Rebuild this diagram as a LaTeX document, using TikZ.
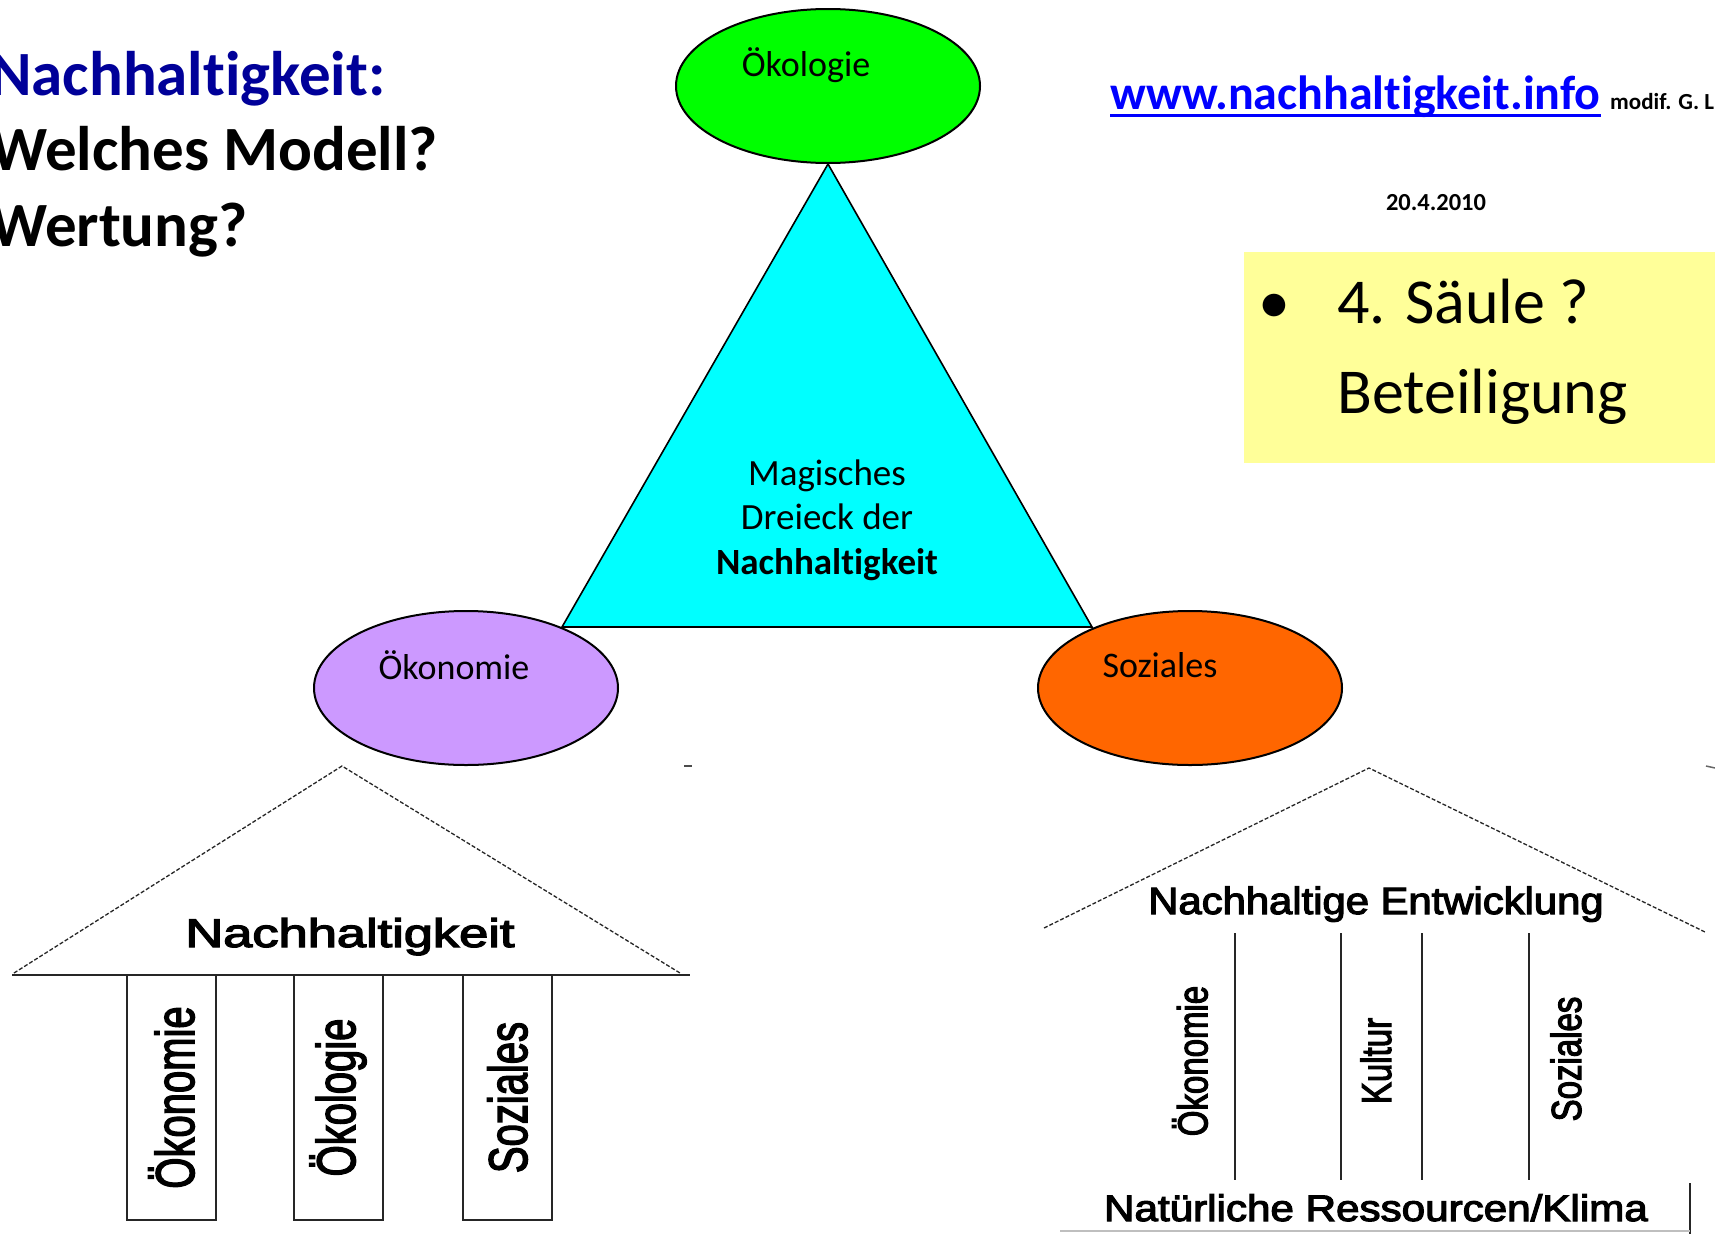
\documentclass[tikz,border=0pt]{standalone}
\usepackage{fontspec}
\setmainfont{Carlito}[Ligatures=NoCommon]
\newfontfamily\arialf{Liberation Sans}[FakeBold=3]
\usetikzlibrary{shapes.geometric}
\definecolor{titleblue}{RGB}{0,0,153}
\definecolor{urlblue}{RGB}{0,0,255}
\definecolor{oekogreen}{RGB}{0,255,0}
\definecolor{tricyan}{RGB}{0,255,255}
\definecolor{oekoviolet}{RGB}{204,153,255}
\definecolor{sozorange}{RGB}{255,102,0}
\definecolor{boxyellow}{RGB}{255,255,153}
\begin{document}
\begin{tikzpicture}[x=1pt,y=-1pt,
  ell/.style={ellipse, draw=black, line width=2pt, minimum width=304pt, minimum height=154pt, inner sep=0pt},
  elltext/.style={font=\fontsize{36}{40}\selectfont, inner sep=0pt},
  titletext/.style={anchor=base west, inner sep=0pt, font=\fontsize{63}{74}\selectfont\bfseries},
  rooflinestyle/.style={black!85, line width=1.3pt, dash pattern=on 4pt off 2pt},
  houseline/.style={black!85, line width=2pt},
  lcol/.style={draw=black!85, line width=2pt, rotate=90, minimum width=245pt, minimum height=89pt, inner sep=0pt, font=\arialf\fontsize{40}{44}\selectfont},
  rcoltext/.style={rotate=90, inner sep=0pt, font=\arialf\fontsize{33}{36}\selectfont},
  housetext/.style={inner sep=0pt, anchor=base, font=\arialf\fontsize{40}{44}\selectfont}
]
\useasboundingbox (0,0) rectangle (1715,1234);
\fill[white] (0,0) rectangle (1715,1234);

% title
\node[titletext, text=titleblue] (t1) at (-10,95) {Nachhaltigkeit:};
\node[titletext] (t2) at (-10,170) {Welches Modell?};
\node[titletext] (t3) at (-10,246) {Wertung?};

% url and notes
\node[anchor=base west, inner sep=0pt, text=urlblue, font=\fontsize{48}{52}\selectfont\bfseries] (url) at (1110,109) {www.nachhaltigkeit.info};
\draw[urlblue, line width=3pt] ([yshift=-6pt]url.base west) -- ([yshift=-6pt]url.base east);
\node[anchor=base west, inner sep=0pt, font=\fontsize{23}{26}\selectfont\bfseries] (modif) at (1610,109) {modif. G. L};
\node[anchor=base, inner sep=0pt, font=\fontsize{24.5}{26}\selectfont\bfseries] (date) at (1436,210) {20.4.2010};

% yellow box
\node[fill=boxyellow, anchor=north west, minimum width=480pt, minimum height=211pt, inner sep=0pt] (box) at (1244,252) {};
\node[anchor=base, inner sep=0pt, font=\fontsize{64}{70}\selectfont] (bul) at (1274,323) {•};
\node[anchor=base west, inner sep=0pt, font=\fontsize{64}{70}\selectfont] (s4) at (1337,323) {4. Säule ?};
\node[anchor=base west, inner sep=0pt, font=\fontsize{64}{70}\selectfont] (bet) at (1337,413) {Beteiligung};

% magic triangle
\coordinate (TA) at (828,164);
\coordinate (TL) at (562,627);
\coordinate (TR) at (1092,627);
\draw[fill=tricyan, line width=1.6pt] (TA) -- (TL) -- (TR) -- cycle;
\node[align=center, inner sep=0pt, font=\fontsize{37}{44.5}\selectfont] (tri) at (827,520) {Magisches\\Dreieck der\\\textbf{Nachhaltigkeit}};

% ellipses
\node[ell, fill=oekogreen] (oeko) at (828,86) {};
\node[elltext] (oekot) at (806,65) {Ökologie};
\node[ell, fill=oekoviolet] (oekon) at (466,688) {};
\node[elltext] (oekont) at (454,665) {Ökonomie};
\node[ell, fill=sozorange] (soz) at (1190,688) {};
\node[elltext] (sozt) at (1160,665) {Soziales};

% left house
\coordinate (LA) at (342,766);
\coordinate (LL) at (14,973);
\coordinate (LR) at (680,973);
\coordinate (LB1) at (12,975);
\coordinate (LB2) at (690,975);
\draw[rooflinestyle] (LL) -- (LA) -- (LR);
\draw[houseline] (LB1) -- (LB2);
\node[housetext] (lht) at (350,947) {\scalebox{1.31}[1]{Nachhaltigkeit}};
\node[lcol] (lc1) at (171.5,1097.5) {\scalebox{1}[1.36]{Ökonomie}};
\node[lcol] (lc2) at (338,1097.5) {\scalebox{1}[1.36]{Ökologie}};
\node[lcol] (lc3) at (507.5,1097.5) {\scalebox{1}[1.36]{Soziales}};
\coordinate (m1a) at (684,766); \coordinate (m1b) at (692,766);
\draw[black!70, line width=1.5pt] (m1a) -- (m1b);

% right house
\coordinate (RA) at (1369,768);
\coordinate (RL) at (1044,928);
\coordinate (RR) at (1705,932);
\draw[rooflinestyle] (RL) -- (RA) -- (RR);
\node[housetext, font=\arialf\fontsize{38}{42}\selectfont] (rht) at (1376,914) {\scalebox{1.10}[1]{Nachhaltige Entwicklung}};
\foreach \x [count=\i] in {1235,1341,1422,1529}{
  \coordinate (rv\i t) at (\x,933);
  \coordinate (rv\i b) at (\x,1180);
  \draw[houseline] (rv\i t) -- (rv\i b);
}
\node[rcoltext] (rc1) at (1190,1061) {\scalebox{1}[1.27]{Ökonomie}};
\node[rcoltext] (rc2) at (1376,1061) {\scalebox{1}[1.27]{Kultur}};
\node[rcoltext] (rc3) at (1566,1059) {\scalebox{1}[1.27]{Soziales}};
\node[housetext, font=\arialf\fontsize{37}{40}\selectfont] (rnt) at (1376,1221) {\scalebox{1.14}[1]{Natürliche Ressourcen/Klima}};
\coordinate (rs1) at (1690,1183); \coordinate (rs2) at (1690,1234);
\draw[houseline] (rs1) -- (rs2);
\coordinate (rg1) at (1060,1231); \coordinate (rg2) at (1690,1231);
\draw[black!25, line width=1.5pt] (rg1) -- (rg2);
\coordinate (m3a) at (1706,766); \coordinate (m3b) at (1715,768);
\draw[black!60, line width=1.5pt] (m3a) -- (m3b);
\end{tikzpicture}
\end{document}
